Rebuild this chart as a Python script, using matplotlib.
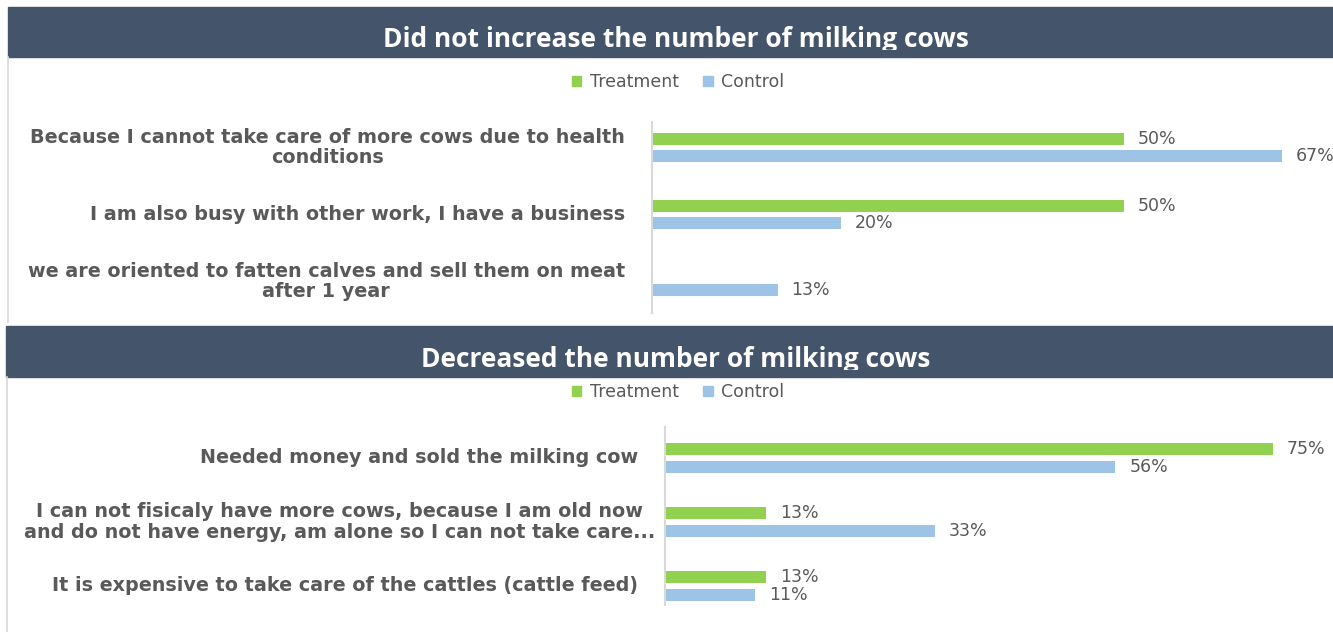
import matplotlib.pyplot as plt
from matplotlib.patches import Rectangle, Patch
from matplotlib.transforms import offset_copy

# --- data ---------------------------------------------------------------
top_title = "Did not increase the number of milking cows"
top_categories = [
    "Because I cannot take care of more cows due to health\nconditions",
    "I am also busy with other work, I have a business",
    "we are oriented to fatten calves and sell them on meat\nafter 1 year",
]
top_treatment = [50, 50, None]
top_control = [66.7, 20, 13.3]

bottom_title = "Decreased the number of milking cows"
bottom_categories = [
    "Needed money and sold the milking cow",
    "I can not fisicaly have more cows, because I am old now\nand do not have energy, am alone so I can not take care...",
    "It is expensive to take care of the cattles (cattle feed)",
]
bottom_treatment = [75, 12.5, 12.5]
bottom_control = [55.6, 33.3, 11.1]

series_names = ["Treatment", "Control"]

# --- style --------------------------------------------------------------
GREEN = "#92D050"
BLUE = "#9DC3E6"
HEADER = "#44546A"
TEXT = "#595959"
LINE = "#D9D9D9"
W, H = 1333, 632


def fx(px):
    return px / W


def fy(py):
    return 1 - py / H


def pct(v):
    return f"{int(v + 0.5)}%"


def header(fig, y0, y1, x0, title, base, cut):
    fig.patches.append(Rectangle((fx(x0), fy(y1)), 1 - fx(x0), fy(y0) - fy(y1),
                                 transform=fig.transFigure, color=HEADER, zorder=0))
    t = fig.text(fx(676), fy(base), title, ha="center", va="baseline",
                 color="white", fontsize=19, fontweight="bold", family="Open Sans")
    # the header text is cut off just above the band's lower edge
    clip = Rectangle((0, fy(cut)), 1, fy(y0) - fy(cut),
                     transform=fig.transFigure, visible=False)
    fig.patches.append(clip)
    t.set_clip_path(clip)
    t.set_clip_on(True)


def legend(fig, y):
    handles = [Patch(color=GREEN), Patch(color=BLUE)]
    fig.legend(handles, series_names, loc="center", bbox_to_anchor=(fx(678), fy(y)),
               ncol=2, frameon=False, fontsize=12.5, labelcolor=TEXT,
               handlelength=0.55, handleheight=0.55, handletextpad=0.5,
               columnspacing=1.4)


def panel(ax, cats, treat, ctrl, xmax, ylim, bh, off, gaps):
    ys = list(range(len(cats)))
    tv = [v if v is not None else 0 for v in treat]
    b1 = ax.barh([y - off for y in ys], tv, height=bh, color=GREEN)
    b2 = ax.barh([y + off for y in ys], ctrl, height=bh, color=BLUE)
    ax.bar_label(b1, labels=[pct(v) if v is not None else "" for v in treat],
                 padding=10, fontsize=12.5, color=TEXT, clip_on=False)
    ax.bar_label(b2, labels=[pct(v) for v in ctrl],
                 padding=10, fontsize=12.5, color=TEXT, clip_on=False)
    ax.set_xlim(0, xmax)
    ax.set_ylim(*ylim)
    # category labels, right aligned a few pixels left of the axis line
    for y, c, g in zip(ys, cats, gaps):
        tr = offset_copy(ax.get_yaxis_transform(), fig=ax.figure, x=-g, units="dots")
        ax.text(0, y, c, transform=tr, ha="right", va="center",
                multialignment="center", linespacing=1.1,
                fontsize=13.8, fontweight="bold", color=TEXT)
    ax.set_yticks([])
    ax.set_xticks([])
    for s in ["top", "right", "bottom"]:
        ax.spines[s].set_visible(False)
    ax.spines["left"].set_color(LINE)
    ax.spines["left"].set_linewidth(1.5)
    ax.patch.set_visible(False)


fig = plt.figure(figsize=(W / 100, H / 100), dpi=100)

# left border lines of the two panels
fig.add_artist(plt.Line2D([fx(8), fx(8)], [fy(57), fy(322)], color=LINE, lw=1.2))
fig.add_artist(plt.Line2D([fx(7), fx(7)], [fy(377), fy(632)], color=LINE, lw=1.2))

header(fig, 7, 57, 8, top_title, base=47, cut=50)
header(fig, 326, 377, 6, bottom_title, base=367, cut=370)
legend(fig, 82)
legend(fig, 392)

ax1 = fig.add_axes([fx(652), fy(313), 1 - fx(652), fy(122) - fy(313)])
panel(ax1, top_categories, top_treatment, top_control,
      681 / 9.44, (2.47, -0.38), 0.17, 0.127, [27, 27, 27])

ax2 = fig.add_axes([fx(665), fy(605), 1 - fx(665), fy(427) - fy(605)])
panel(ax2, bottom_categories, bottom_treatment, bottom_control,
      668 / 8.1, (2.3, -0.48), 0.19, 0.14, [27, 10, 27])

plt.savefig("out.png", dpi=100)
